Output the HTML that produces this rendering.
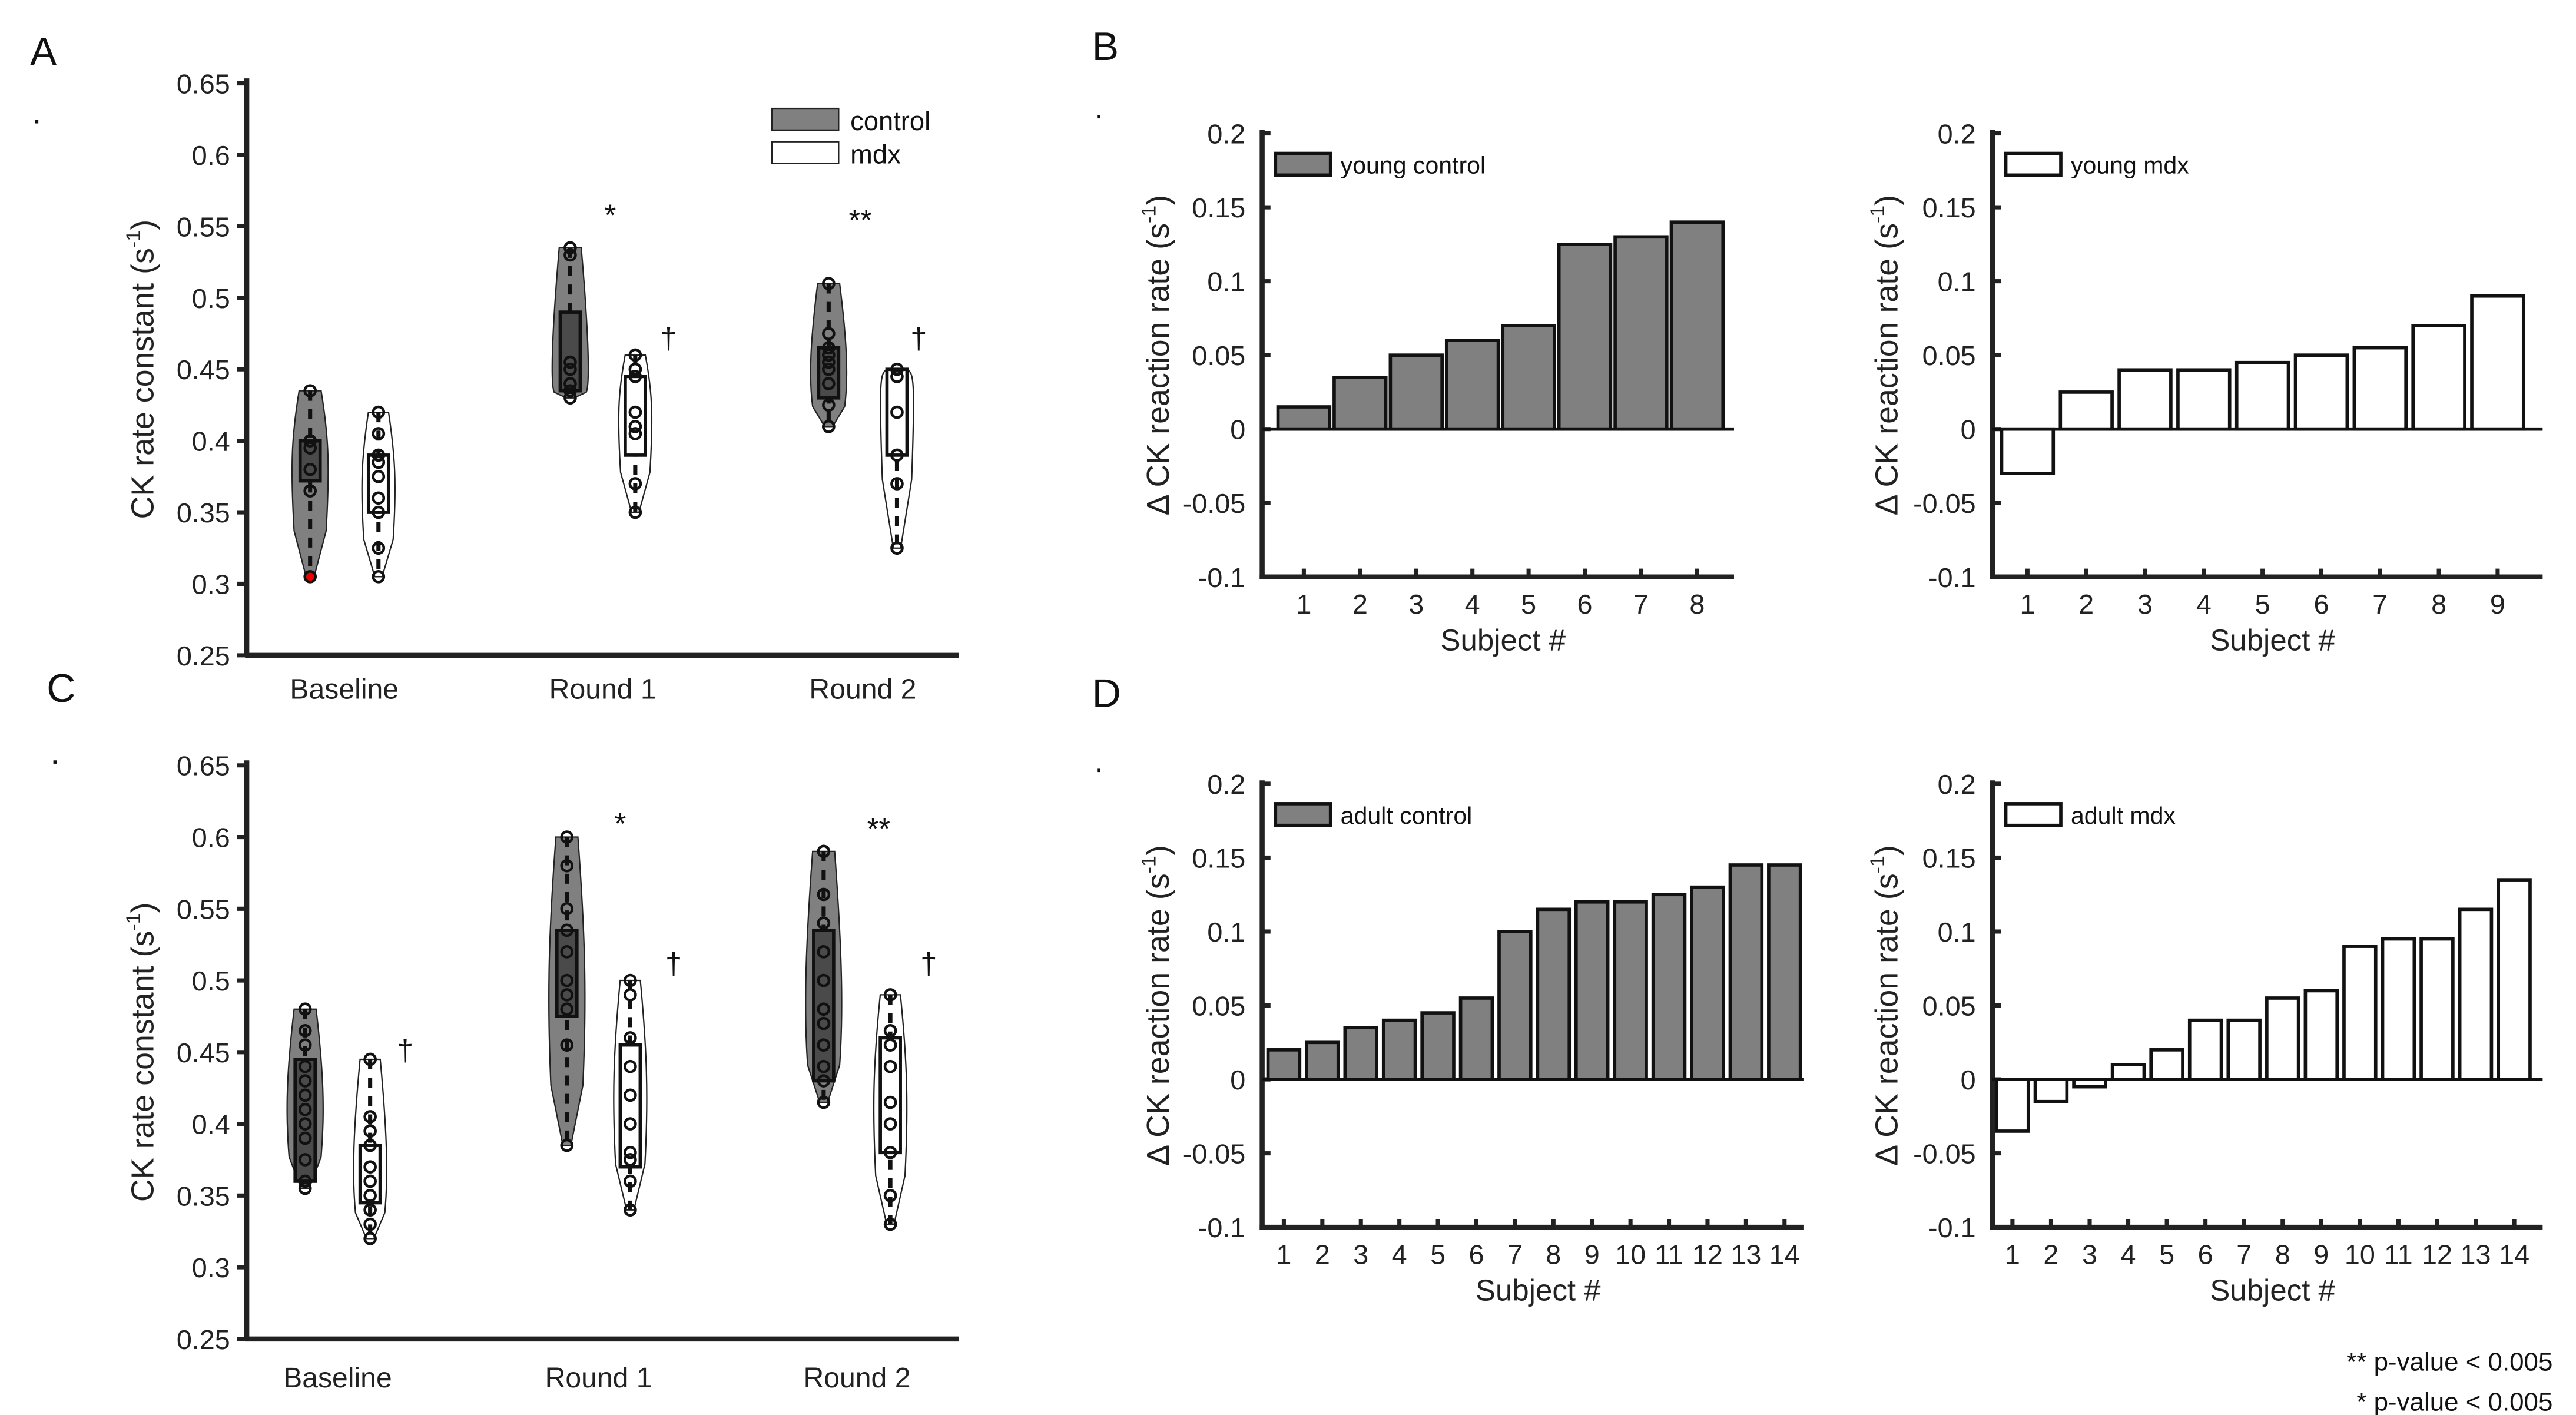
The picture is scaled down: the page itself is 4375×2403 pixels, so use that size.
<!DOCTYPE html>
<html><head><meta charset="utf-8"><style>
html,body{margin:0;padding:0;background:#fff;}
svg{display:block;font-family:"Liberation Sans",sans-serif;}
</style></head><body>
<svg id="fig" width="4375" height="2403" viewBox="0 0 1545 848.6" preserveAspectRatio="none" xmlns="http://www.w3.org/2000/svg">
<rect width="1545" height="849" fill="#fff"/>
<g font-size="24" fill="#111">
<text x="18" y="39">A</text>
<text x="655" y="36">B</text>
<text x="28" y="421">C</text>
<text x="655" y="424">D</text>
</g>
<g fill="#111">
<rect x="21" y="72" width="2" height="2"/>
<rect x="658" y="69" width="2" height="2"/>
<rect x="32" y="456" width="2" height="2"/>
<rect x="658" y="461" width="2" height="2"/>
</g>
<g font-size="15.5" fill="#111" text-anchor="end">
<text x="1531" y="822">** p-value &lt; 0.005</text>
<text x="1531" y="846">* p-value &lt; 0.005</text>
</g>
<g id="root"></g>
</svg>
<script>
// ---- Violin data (panel A) ----
const groupsA = ["Baseline", "Round 1", "Round 2"];
const aCtrlBase = [0.435,0.40,0.395,0.38,0.365,0.305];
const aMdxBase = [0.42,0.405,0.39,0.385,0.375,0.36,0.35,0.325,0.305];
const aCtrlR1 = [0.535,0.53,0.455,0.45,0.44,0.435,0.43];
const aMdxR1 = [0.46,0.45,0.445,0.42,0.41,0.405,0.37,0.35];
const aCtrlR2 = [0.51,0.475,0.465,0.46,0.455,0.45,0.44,0.425,0.41];
const aMdxR2 = [0.45,0.445,0.42,0.39,0.37,0.325];
const aBoxes = [[0.372,0.40,0.385],[0.35,0.39,0.37],[0.435,0.49,0.44],[0.39,0.445,0.42],[0.43,0.465,0.445],[0.39,0.45,0.445]];
// ---- Violin data (panel C) ----
const cCtrlBase = [0.48,0.465,0.455,0.44,0.43,0.42,0.41,0.40,0.39,0.375,0.36,0.355];
const cMdxBase = [0.445,0.405,0.395,0.385,0.37,0.36,0.35,0.34,0.33,0.32];
const cCtrlR1 = [0.6,0.58,0.55,0.535,0.52,0.5,0.49,0.48,0.455,0.385];
const cMdxR1 = [0.5,0.49,0.46,0.44,0.42,0.40,0.38,0.375,0.36,0.34];
const cCtrlR2 = [0.59,0.56,0.54,0.52,0.50,0.48,0.47,0.455,0.44,0.43,0.415];
const cMdxR2 = [0.49,0.465,0.455,0.44,0.415,0.40,0.38,0.35,0.33];
const cBoxes = [[0.36,0.445,0.41],[0.345,0.385,0.365],[0.475,0.535,0.49],[0.37,0.455,0.42],[0.43,0.535,0.48],[0.38,0.46,0.415]];
const violinTicks = [0.25,0.3,0.35,0.4,0.45,0.5,0.55,0.6,0.65];
// ---- Bar data ----
const youngCtrl = [0.015,0.035,0.05,0.06,0.07,0.125,0.13,0.14];
const youngMdx = [-0.03,0.025,0.04,0.04,0.045,0.05,0.055,0.07,0.09];
const adultCtrl = [0.02,0.025,0.035,0.04,0.045,0.055,0.10,0.115,0.12,0.12,0.125,0.13,0.145,0.145];
const adultMdx = [-0.035,-0.015,-0.005,0.01,0.02,0.04,0.04,0.055,0.06,0.09,0.095,0.095,0.115,0.135];
const barTicks = [-0.1,-0.05,0,0.05,0.1,0.15,0.2];
const barTickLabels = ["-0.1","-0.05","0","0.05","0.1","0.15","0.2"];

const NS="http://www.w3.org/2000/svg";
const root=document.getElementById('root');
function mk(tag,at,parent){const e=document.createElementNS(NS,tag);for(const k in at)e.setAttribute(k,at[k]);(parent||root).appendChild(e);return e;}
function txt(s,at){const e=mk('text',at);e.textContent=s;return e;}

function violinPanel(key,top,bottom,xCenters,labelY,sets,boxes){
  const y=v=>bottom-(v-0.25)/0.4*(bottom-top);
  let el;
  el=mk('line',{x1:148,y1:top-3,x2:148,y2:bottom+1,stroke:'#222','stroke-width':3});
  
  
  el=mk('line',{x1:147,y1:bottom,x2:575,y2:bottom,stroke:'#222','stroke-width':3});
  
  
  violinTicks.forEach(t=>{
    el=mk('line',{x1:142,y1:y(t),x2:148,y2:y(t),stroke:'#222','stroke-width':2.5});
    
    
    el=txt(String(t),{x:138,y:y(t)+6,'font-size':16.5,'text-anchor':'end',fill:'#222'});
    
    
  });
  el=txt('CK rate constant (s',{x:0,y:0,'font-size':19,'text-anchor':'middle',fill:'#222',transform:`translate(92,${(top+bottom)/2}) rotate(-90)`});
  const ts=mk('tspan',{'font-size':12,dy:-8},el);ts.textContent='-1';
  const ts2=mk('tspan',{dy:8},el);ts2.textContent=')';
  
  
  groupsA.forEach((g,i)=>{
    el=txt(g,{x:(xCenters[2*i]+xCenters[2*i+1])/2,y:labelY,'font-size':17,'text-anchor':'middle',fill:'#222'});
    
    
  });
  sets.forEach((pts,i)=>{
    const cx=xCenters[i];const ctrl=i%2===0;
    const mx=Math.max(...pts),mn=Math.min(...pts);
    const w=ctrl?12:11;
    const med=boxes[i][2];
    const d=`M${cx-w*0.55},${y(mx)} L${cx+w*0.55},${y(mx)} C${cx+w*0.9},${y(med+ (mx-med)*0.4)} ${cx+w},${y(med)} ${cx+w*0.8},${y(mn+(med-mn)*0.4)} L${cx+w*0.2},${y(mn)} L${cx-w*0.2},${y(mn)} L${cx-w*0.8},${y(mn+(med-mn)*0.4)} C${cx-w},${y(med)} ${cx-w*0.9},${y(med+(mx-med)*0.4)} ${cx-w*0.55},${y(mx)} Z`;
    el=mk('path',{d,fill:ctrl?'#808080':'#fff',stroke:'#222','stroke-width':0.8});
    
    
    const [q1,q3]=boxes[i];
    el=mk('line',{x1:cx,y1:y(mx),x2:cx,y2:y(mn),stroke:'#111','stroke-width':2.5,'stroke-dasharray':'6,5'});
    
    
    el=mk('rect',{x:cx-6,y:y(q3),width:12,height:y(q1)-y(q3),fill:ctrl?'#4a4a4a':'#fff',stroke:'#111','stroke-width':2});
    
    
    pts.forEach((p,j)=>{
      const red=(key==='a'&&i===0&&p===0.305);
      el=mk('circle',{cx,cy:y(p),r:3.2,fill:red?'#e00':'none',stroke:'#111','stroke-width':1.6});
      
      
    });
  });
}

violinPanel('a',50,393,[186,227,342,381,497,538],419,[aCtrlBase,aMdxBase,aCtrlR1,aMdxR1,aCtrlR2,aMdxR2],aBoxes);
violinPanel('c',459,803,[183,222,340,378,494,534],832,[cCtrlBase,cMdxBase,cCtrlR1,cMdxR1,cCtrlR2,cMdxR2],cBoxes);

// legend A
let el;
el=mk('rect',{x:463,y:65,width:40,height:13,fill:'#808080',stroke:'#222','stroke-width':0.8});


el=txt('control',{x:510,y:78,'font-size':16,fill:'#111'});


el=mk('rect',{x:463,y:85,width:40,height:13,fill:'#fff',stroke:'#222','stroke-width':0.8});


el=txt('mdx',{x:510,y:98,'font-size':16,fill:'#111'});



const marks=[['*',366,135],['†',401,209],['**',516,138],['†',551,209],['*',372,500],['†',404,584],['**',527,503],['†',557,584],['†',243,636]];
marks.forEach(m=>{
  el=txt(m[0],{x:m[1],y:m[2],'font-size':18,'text-anchor':'middle',fill:'#111'});
  
  
});

function barPanel(key,vals,x0,xEnd,first,spacing,top,bottom,bw,fill,legend){
  const y=v=>bottom-(v+0.1)/0.3*(bottom-top);
  const xc=i=>first+i*spacing;
  el=mk('line',{x1:x0,y1:top-2,x2:x0,y2:bottom+1.5,stroke:'#222','stroke-width':3});
  
  
  el=mk('line',{x1:x0-1.5,y1:bottom,x2:xEnd,y2:bottom,stroke:'#222','stroke-width':3});
  
  
  barTicks.forEach((t,i)=>{
    el=mk('line',{x1:x0,y1:y(t),x2:x0+5,y2:y(t),stroke:'#222','stroke-width':2.5});
    
    
    el=txt(barTickLabels[i],{x:x0-10,y:y(t)+6,'font-size':16.5,'text-anchor':'end',fill:'#222'});
    
    
  });
  vals.forEach((v,i)=>{
    el=mk('rect',{x:xc(i)-bw/2,y:Math.min(y(v),y(0)),width:bw,height:Math.abs(y(v)-y(0)),fill,stroke:'#111','stroke-width':2});
    
    
    el=mk('line',{x1:xc(i),y1:bottom,x2:xc(i),y2:bottom-5,stroke:'#222','stroke-width':2.5});
    
    
    el=txt(String(i+1),{x:xc(i),y:bottom+22,'font-size':16.5,'text-anchor':'middle',fill:'#222'});
    
    
  });
  el=mk('line',{x1:x0,y1:y(0),x2:xEnd,y2:y(0),stroke:'#111','stroke-width':2});
  
  
  el=txt('Subject #',{x:(x0+xEnd)/2+3,y:bottom+44,'font-size':18,'text-anchor':'middle',fill:'#222'});
  
  
  el=txt('Δ CK reaction rate (s',{x:0,y:0,'font-size':19,'text-anchor':'middle',fill:'#222',transform:`translate(701,${(top+bottom)/2}) rotate(-90)`});
  if(x0>1000) el.setAttribute('transform',`translate(1138,${(top+bottom)/2}) rotate(-90)`);
  const ts=mk('tspan',{'font-size':12,dy:-8},el);ts.textContent='-1';
  const ts2=mk('tspan',{dy:8},el);ts2.textContent=')';
  
  
  el=mk('rect',{x:x0+8,y:top+12,width:33,height:13,fill,stroke:'#111','stroke-width':2});
  
  
  el=txt(legend,{x:x0+47,y:top+24,'font-size':14.5,fill:'#111'});
  
  
}
barPanel('b-young-control',youngCtrl,757,1040,782,33.7,80,346,31,'#808080','young control');
barPanel('b-young-mdx',youngMdx,1195,1525,1216,35.25,80,346,31,'#fff','young mdx');
barPanel('d-adult-control',adultCtrl,757,1082,770,23.1,470,736,19,'#808080','adult control');
barPanel('d-adult-mdx',adultMdx,1195,1525,1207,23.15,470,736,19,'#fff','adult mdx');
</script>
</body></html>
